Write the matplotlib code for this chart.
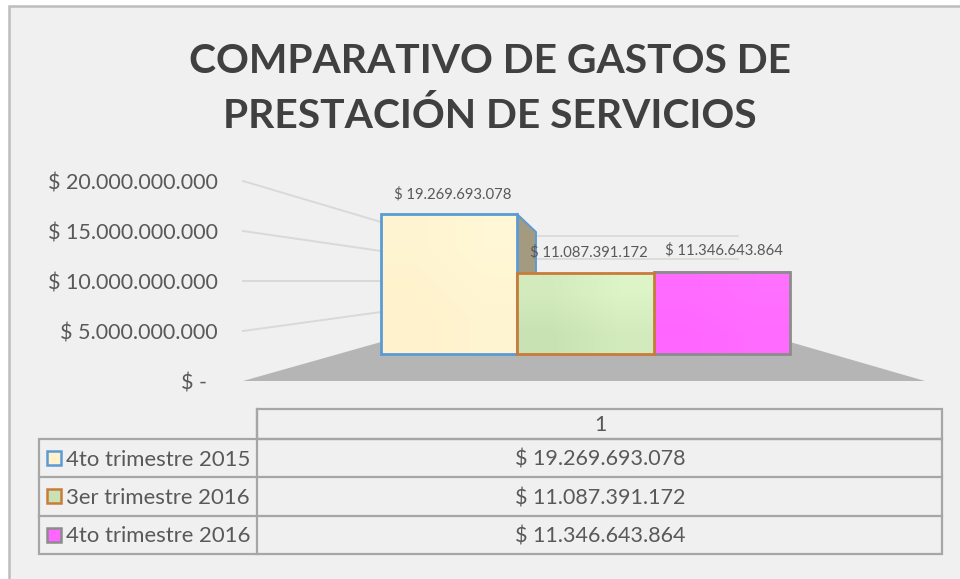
import matplotlib
matplotlib.use("Agg")
import matplotlib.pyplot as plt
import numpy as np
from matplotlib.colors import to_rgb
from matplotlib.patches import Polygon, Rectangle

FONT = ['Lato', 'DejaVu Sans']
plt.rcParams['font.family'] = FONT

title = "COMPARATIVO DE GASTOS DE\nPRESTACIÓN DE SERVICIOS"
series = ["4to trimestre 2015", "3er trimestre 2016", "4to trimestre 2016"]
values = [19269693078, 11087391172, 11346643864]
value_labels = ["$ 19.269.693.078", "$ 11.087.391.172", "$ 11.346.643.864"]
axis_labels = ["$ -", "$ 5.000.000.000", "$ 10.000.000.000", "$ 15.000.000.000", "$ 20.000.000.000"]
fills = ["#FFF2CC", "#C9E2B3", "#FF66FF"]
fills_light = ["#FFF7D6", "#DDF5C6", "#FF70FF"]
edges = ["#5B9BD5", "#C97B3A", "#8C8C8C"]
TXT = "#595959"
BG = "#F0F0F0"
W, H = 960, 579

fig = plt.figure(figsize=(W / 100, H / 100), dpi=100, facecolor="white")
bgax = fig.add_axes([0, 0, 1, 1])
bgax.set_xlim(0, W)
bgax.set_ylim(H, 0)
bgax.axis("off")

# chart frame (runs off the right and bottom of the picture)
bgax.add_patch(Rectangle((9, 6), W + 20, H + 20, fc=BG, ec="#BDBDBD", lw=1.8))

# title
bgax.text(490, 89, title, ha="center", va="center", fontsize=29.3, fontweight="bold",
          color="#404040", linespacing=1.53)

# walls and floor
grid = "#D9D9D9"
for y0, y1 in [(181, 222), (231, 251), (281, 281), (331, 312)]:
    bgax.plot([243, 381], [y0, y1], color=grid, lw=1.4)
for y in [236, 259]:
    bgax.plot([536, 738], [y, y], color=grid, lw=1.2)
bgax.add_patch(Polygon([(243, 381), (925, 381), (790, 342), (381, 342)], fc="#B5B5B5", ec="none"))

# axis labels
for lab, y in zip(axis_labels, [381, 331, 281, 231, 181]):
    x = 207 if lab == "$ -" else 218
    bgax.text(x, y + 3, lab, ha="right", va="center", fontsize=15.5, color=TXT)

# side face of tallest bar
bgax.add_patch(Polygon([(517, 214), (536, 232), (536, 273), (517, 273)], fc="#A39A80", ec="none"))
bgax.plot([517, 536, 536], [214, 232, 273], color="#5B9BD5", lw=1.4)

# bars, on a real value scale
bar_ax = fig.add_axes([381 / W, 1 - 354 / H, (790 - 381) / W, 145.3 / H])
bar_ax.patch.set_alpha(0)
bar_ax.axis("off")
for i, v in enumerate(values):
    bar = bar_ax.bar(i, v, width=1, color=fills[i], edgecolor=edges[i], linewidth=2.0,
                     clip_on=False, zorder=3 + (i == 1))[0]
    # diagonal sheen: darker lower left, lighter upper right
    a, b = np.array(to_rgb(fills[i])), np.array(to_rgb(fills_light[i]))
    t = np.array([[0.5, 1.0], [0.0, 0.5]])[..., None]
    img = bar_ax.imshow(a + (b - a) * t, extent=(i - 0.5, i + 0.5, 0, v), aspect="auto",
                        interpolation="bilinear", zorder=2.5 + (i == 1), origin="upper")
bar_ax.set_xlim(-0.5, 2.5)
bar_ax.set_ylim(0, 20e9)
for p in bar_ax.patches:
    p.set_facecolor("none")

# data labels
for lab, (x, y) in zip(value_labels, [(453, 194), (589, 252), (724, 250)]):
    bgax.text(x, y, lab, ha="center", va="center", fontsize=10.7, color=TXT)

# data table
line = "#A6A6A6"
rows = [439, 477, 515.5, 554]
bgax.add_patch(Rectangle((257, 409), 685, 30, fc="none", ec=line, lw=1.6))
bgax.add_patch(Rectangle((39, 439), 903, 115, fc="none", ec=line, lw=1.6))
for y in rows[1:3]:
    bgax.plot([39, 942], [y, y], color=line, lw=1.6)
bgax.plot([257, 257], [409, 554], color=line, lw=1.6)
bgax.text(600, 425, "1", ha="center", va="center", fontsize=15.5, color=TXT)
for i in range(3):
    yc = (rows[i] + rows[i + 1]) / 2
    bgax.add_patch(Rectangle((47, yc - 7), 14, 14, fc=fills[i], ec=edges[i], lw=1.8))
    bgax.text(66, yc + 1.5, series[i], ha="left", va="center", fontsize=15.9, color=TXT)
    bgax.text(600, yc + 2, value_labels[i], ha="center", va="center", fontsize=15.5, color=TXT)

fig.savefig("out.png", dpi=100, facecolor="white")
